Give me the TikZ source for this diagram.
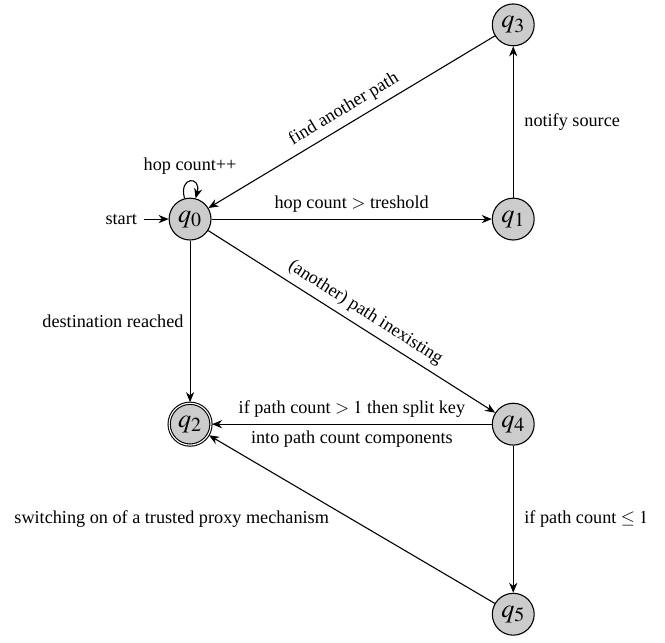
\documentclass[tikz,border=0pt]{standalone}
\usepackage{amsmath, amssymb}
\usepackage{mathptmx}
\usepackage{fontspec}
\setmainfont{Liberation Serif}
\usetikzlibrary{automata,arrows.meta}

\begin{document}
\begin{tikzpicture}[
    >={Stealth[length=5.5pt,width=4.5pt]},
    every state/.style={draw,semithick,fill=black!20,minimum size=23pt,inner sep=0pt,font=\Large},
    every edge/.style={draw,semithick},
    every loop/.style={min distance=4.5mm,looseness=5},
    initial text=start
  ]
    \useasboundingbox (-3.67,4.23) rectangle (9.17,-8.17);
    \node[state,initial] (q0) at (0,0) {$q_0$};
    \node[state] (q1) at (6.24,0) {$q_1$};
    \node[state] (q3) at (6.24,3.75) {$q_3$};
    \node[state,accepting] (q2) at (0,-3.96) {$q_2$};
    \node[state] (q4) at (6.24,-3.96) {$q_4$};
    \node[state] (q5) at (6.24,-7.63) {$q_5$};
    \path[->]
      (q0) edge[loop above] node[above] {hop count++} (q0)
           edge node[above] {hop count $>$ treshold} (q1)
           edge node[left] {destination reached} (q2)
           edge node[above,sloped,pos=0.52] {(another) path inexisting} (q4)
      (q1) edge node[right=2.5pt] {notify source} (q3)
      (q3) edge node[above,sloped] {find another path} (q0)
      (q4) edge node[above] {if path count $>1$ then split key}
                node[below] {into path count components} (q2)
           edge node[right=2.5pt] {if path count $\leq 1$} (q5)
      (q5) edge node[left=9pt] {switching on of a trusted proxy mechanism} (q2);
  \end{tikzpicture}
\end{document}
